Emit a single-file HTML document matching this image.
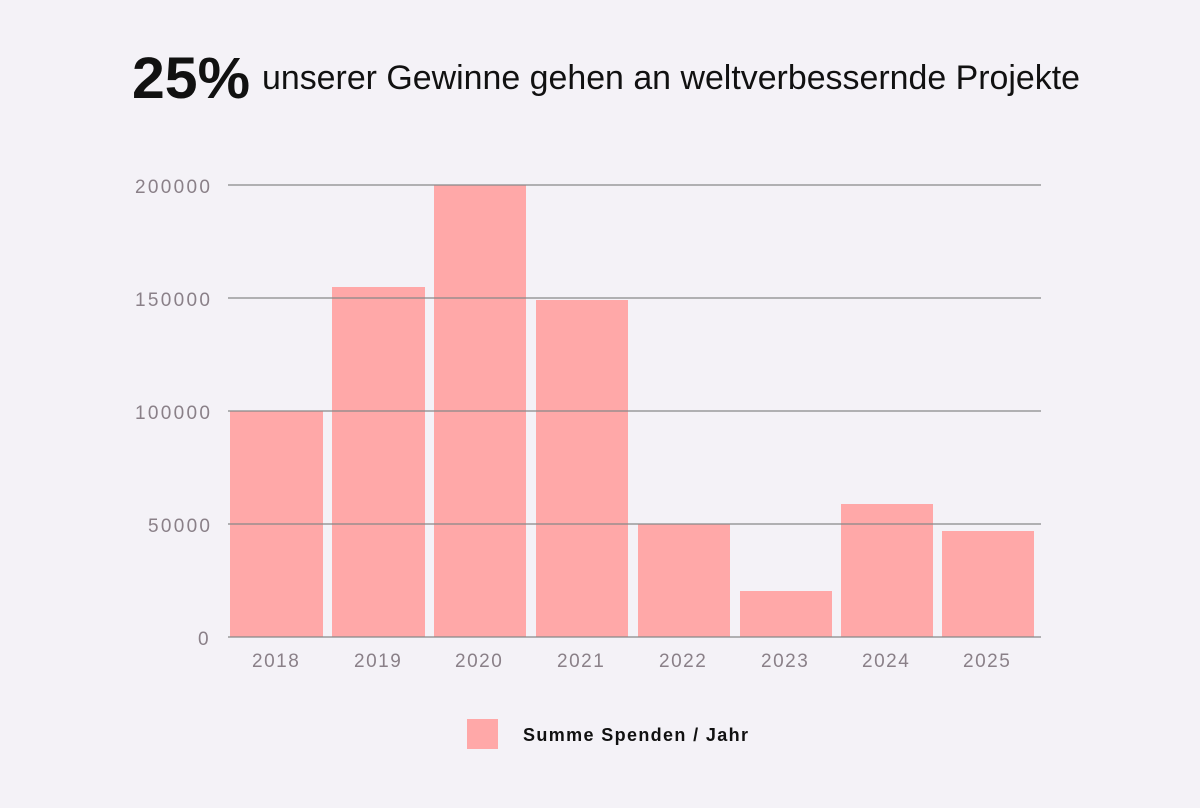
<!DOCTYPE html>
<html><head><meta charset="utf-8"><style>
html,body{margin:0;padding:0;background:#f4f2f7;}
</style></head><body>
<svg width="1200" height="803" viewBox="0 0 1200 803" xmlns="http://www.w3.org/2000/svg" font-family="Liberation Sans, sans-serif">
<rect width="1200" height="803" fill="#f4f2f7"/>
<text x="132" y="98" font-size="58" fill="#111" font-weight="bold" textLength="118" lengthAdjust="spacingAndGlyphs">25%</text>
<text x="262" y="89" font-size="34" fill="#111" textLength="818" lengthAdjust="spacingAndGlyphs">unserer Gewinne gehen an weltverbessernde Projekte</text>
<g fill="#ffa8a8">
<rect x="230" y="411" width="93" height="226"/>
<rect x="332" y="287" width="93" height="350"/>
<rect x="434" y="185" width="92" height="452"/>
<rect x="536" y="300" width="92" height="337"/>
<rect x="638" y="524" width="92" height="113"/>
<rect x="740" y="591" width="92" height="46"/>
<rect x="841" y="504" width="92" height="133"/>
<rect x="942" y="531" width="92" height="106"/>
</g>
<g stroke="#888" stroke-width="1.3">
<line x1="228" y1="185" x2="1041" y2="185"/>
<line x1="228" y1="298" x2="1041" y2="298"/>
<line x1="228" y1="411" x2="1041" y2="411"/>
<line x1="228" y1="524" x2="1041" y2="524"/>
<line x1="228" y1="637" x2="1041" y2="637"/>
</g>
<g font-size="19" fill="#8a8088">
<text x="135" y="193" textLength="75">200000</text>
<text x="135" y="306" textLength="75">150000</text>
<text x="135" y="419" textLength="75">100000</text>
<text x="148" y="532" textLength="62">50000</text>
<text x="198" y="645">0</text>
</g>
<g font-size="19" fill="#8a8088" letter-spacing="1.5">
<text x="252" y="667">2018</text>
<text x="354" y="667">2019</text>
<text x="455" y="667">2020</text>
<text x="557" y="667">2021</text>
<text x="659" y="667">2022</text>
<text x="761" y="667">2023</text>
<text x="862" y="667">2024</text>
<text x="963" y="667">2025</text>
</g>
<rect x="467" y="719" width="31" height="30" fill="#ffa8a8"/>
<text x="523" y="741" font-size="18" fill="#111" font-weight="bold" textLength="225">Summe Spenden / Jahr</text>
</svg>
</body></html>
